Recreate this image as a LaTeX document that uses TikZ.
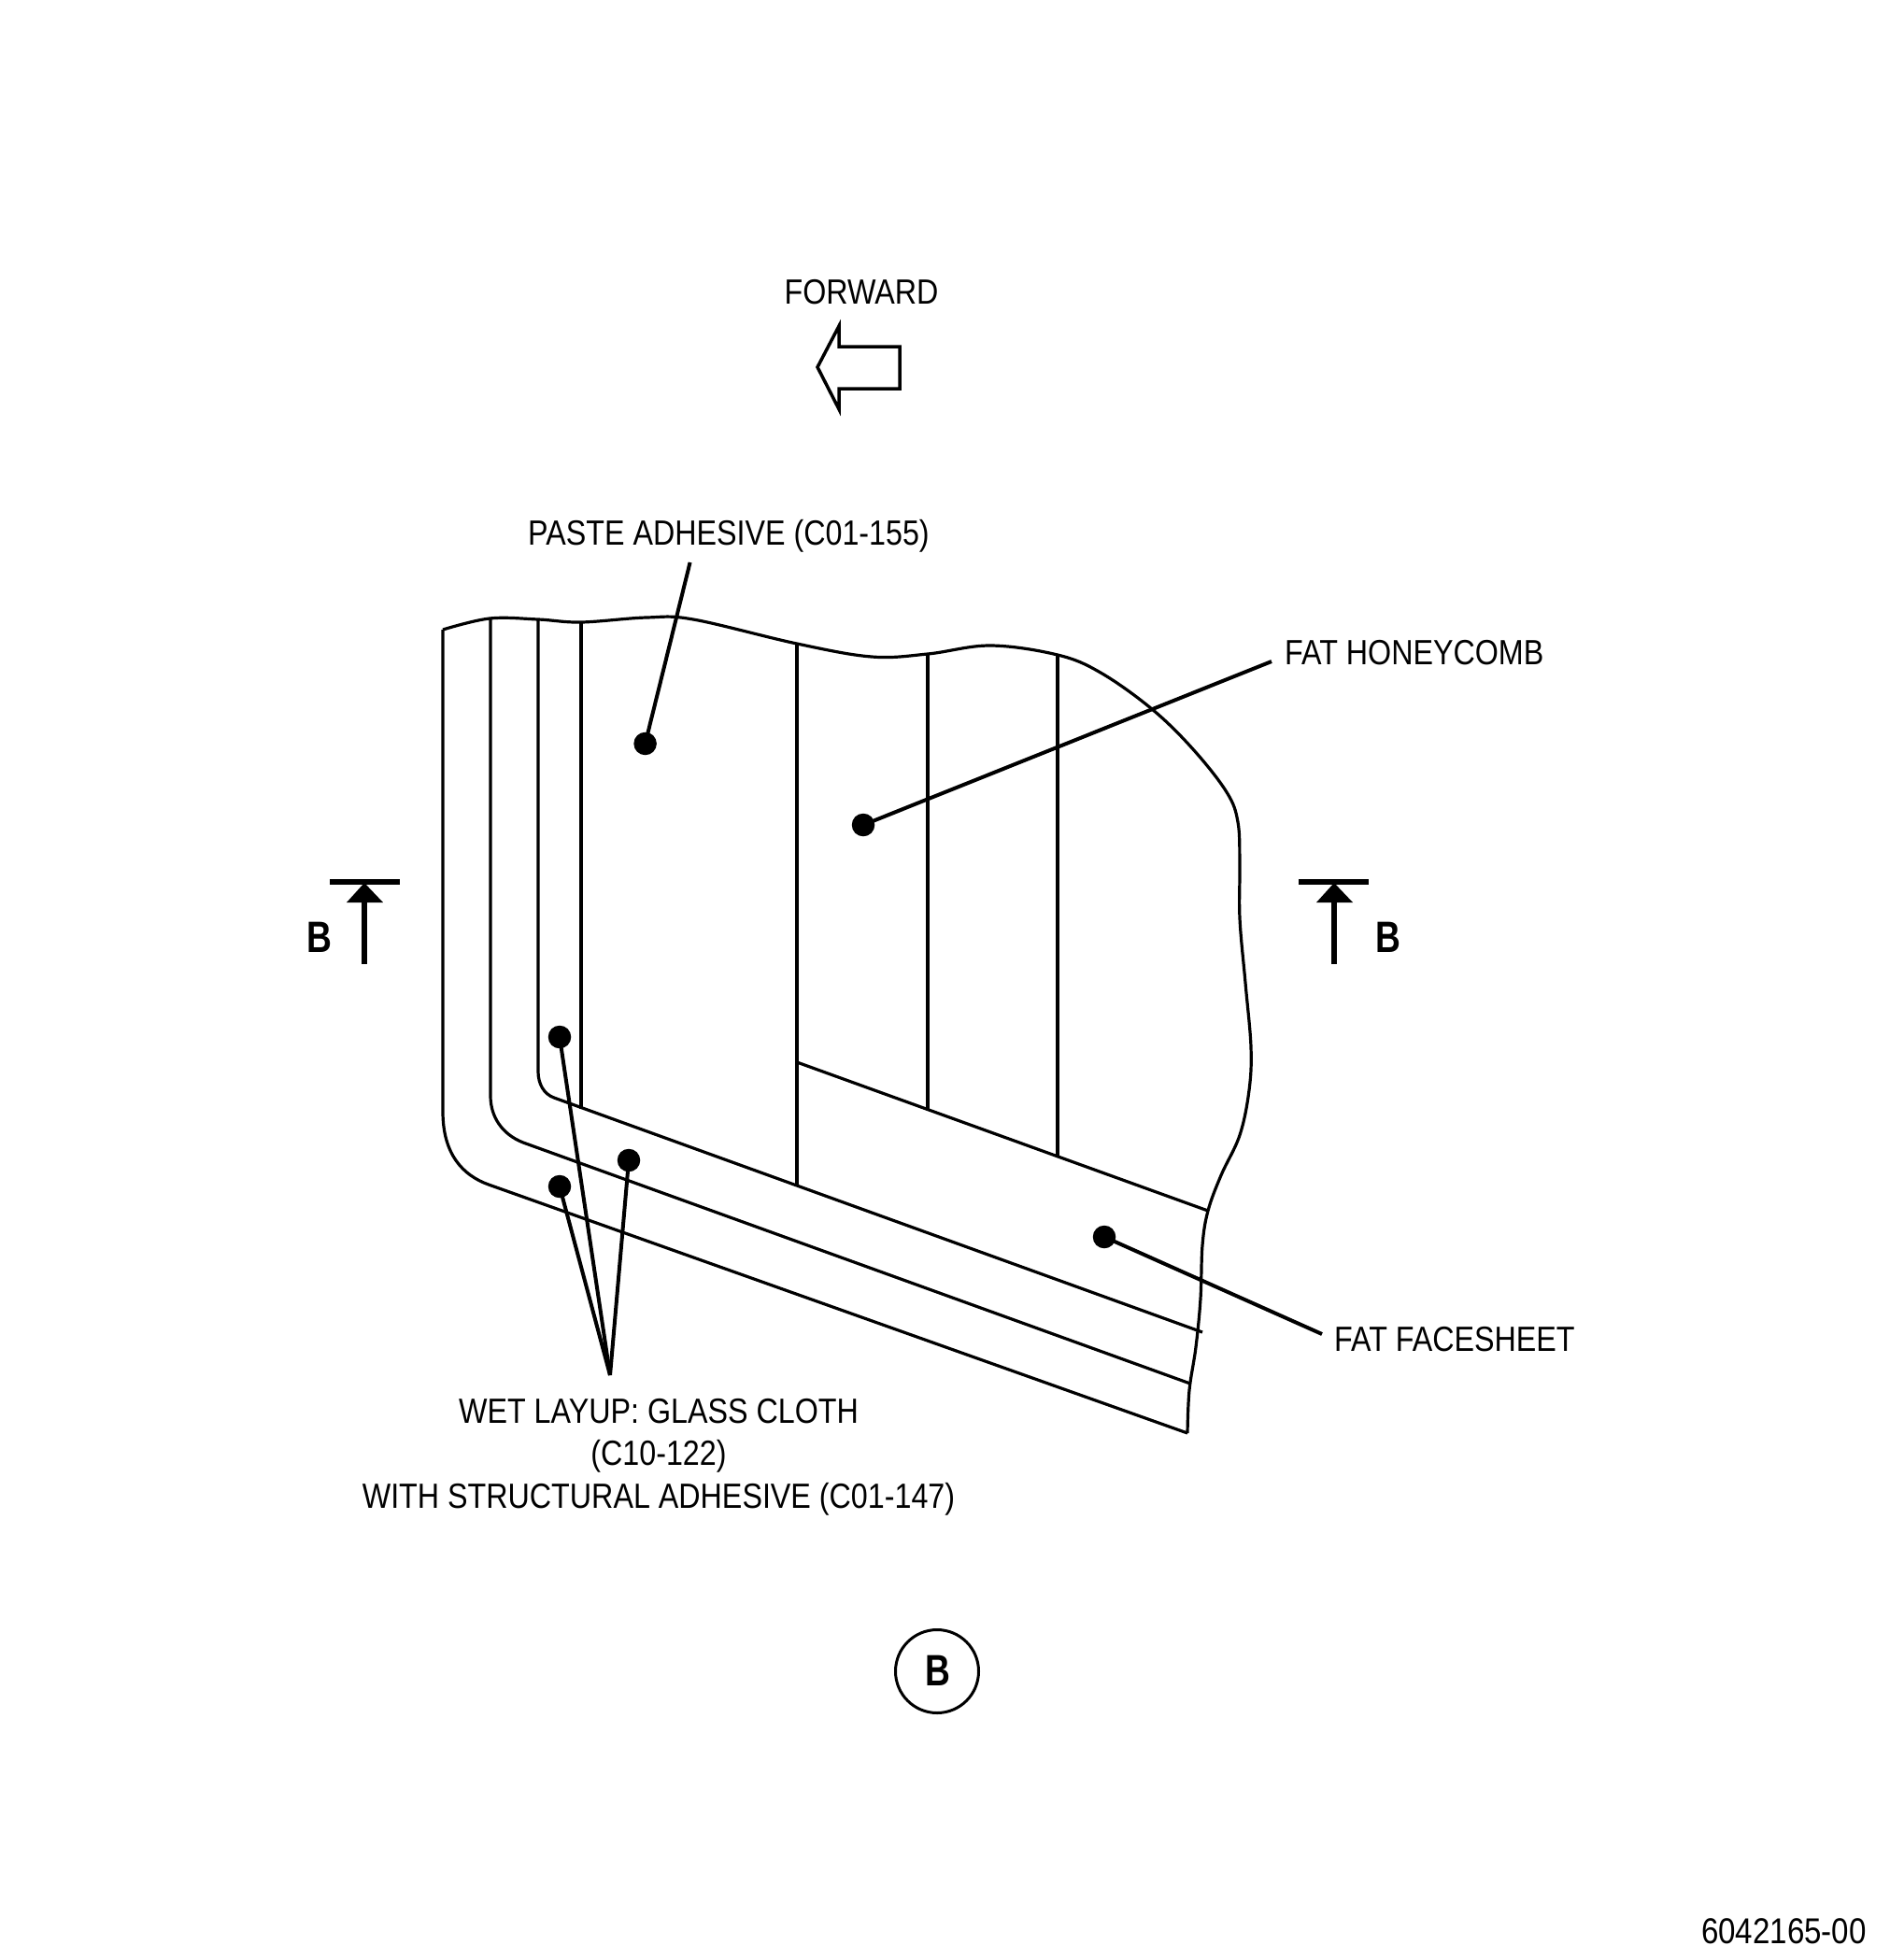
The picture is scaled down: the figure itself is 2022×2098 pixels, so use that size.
\documentclass[tikz,border=0pt]{standalone}
\usepackage{fontspec}
\setmainfont[FakeStretch=0.86]{Liberation Sans}
\begin{document}
\begin{tikzpicture}[x=1pt,y=-1pt,
  part/.style={draw=black,line width=3.2pt,line join=round},
  leader/.style={draw=black,line width=4pt},
  dot/.style={circle,fill=black,inner sep=0pt,minimum size=24.5pt},
  lab/.style={inner sep=0pt,font=\fontsize{37.5}{40}\selectfont},
  sect/.style={inner sep=0pt,xscale=.92,font=\fontsize{47}{49}\selectfont\bfseries}]
\fill[white] (0,0) rectangle (2022,2098);
\useasboundingbox (0,0) rectangle (2022,2098);
% break lines
\draw[part] plot[smooth,tension=.6] coordinates {(474,674) (524,662) (576,663) (622,666) (692,661) (742,663) (853,689) (933,703) (993,700) (1060,691) (1132,701) (1178,720) (1233,759) (1277,802) (1313,848) (1325,880) (1327,925) (1327,983) (1333,1052) (1339,1121) (1337,1167) (1327,1215) (1307,1258) (1293,1296) (1287,1333) (1285,1390) (1280,1442) (1273,1488) (1271,1534)};
% layers
\draw[part] (474,674) -- (474,1190) .. controls (474,1235) and (495,1258) .. (523,1268) -- (1271,1534);
\draw[part] (525,662) -- (525,1173) .. controls (525,1195) and (537,1214) .. (560,1223) -- (1274,1481);
\draw[part] (576,663) -- (576,1147) .. controls (576,1160) and (582,1171) .. (593,1175) -- (1287,1426);
\draw[part] (622,666) -- (622,1187);
\draw[part] (853,689) -- (853,1270);
\draw[part] (853,1137) -- (1293,1296);
\draw[part] (993,700) -- (993,1187);
\draw[part] (1132,701) -- (1132,1238);
% forward arrow
\draw[black,line width=3.5pt,miter limit=10] (875,393) -- (898,349) -- (898,371) -- (963,371) -- (963,416) -- (898,416) -- (898,438) -- cycle;
\node[lab,anchor=base] (fwd) at (922,325) {FORWARD};
% labels
\node[lab,anchor=base] (paste) at (780,583) {PASTE ADHESIVE (C01-155)};
\node[lab,anchor=base west] (honey) at (1375,711.5) {FAT HONEYCOMB};
\node[lab,anchor=base west] (face) at (1428,1446) {FAT FACESHEET};
\node[lab,anchor=base] (wet1) at (705,1523) {WET LAYUP: GLASS CLOTH};
\node[lab,anchor=base] (wet2) at (705,1568.5) {(C10-122)};
\node[lab,anchor=base] (wet3) at (705,1614.5) {WITH STRUCTURAL ADHESIVE (C01-147)};
\node[lab,anchor=base east,font=\fontsize{38.5}{40}\selectfont] (num) at (1998,2080) {6042165-00};
% dots
\node[dot] (dpaste) at (690.6,796) {};
\node[dot] (dhoney) at (924,883) {};
\node[dot] (dface) at (1182,1324) {};
\node[dot] (dw1) at (599,1110) {};
\node[dot] (dw2) at (673,1242) {};
\node[dot] (dw3) at (599,1270) {};
% leader ends
\coordinate (epaste) at (738.6,602);
\coordinate (ehoney) at (1361,708);
\coordinate (eface) at (1415,1428);
\coordinate (ewet) at (653,1472);
\draw[leader] (epaste) -- (dpaste.center);
\draw[leader] (ehoney) -- (dhoney.center);
\draw[leader] (eface) -- (dface.center);
\draw[leader] (ewet) -- (dw1.center);
\draw[leader] (ewet) -- (dw2.center);
\draw[leader] (ewet) -- (dw3.center);
% section marks
\coordinate (bl1) at (353,944); \coordinate (bl2) at (428,944);
\coordinate (sl1) at (390,1032); \coordinate (sl2) at (390,960);
\draw[black,line width=5.5pt] (bl1) -- (bl2);
\draw[black,line width=5.5pt] (sl1) -- (sl2);
\fill[black] (390,945) -- (410,966) -- (371,966) -- cycle;
\node[sect] (bleft) at (342,1003) {B};
\coordinate (br1) at (1390,944); \coordinate (br2) at (1465,944);
\coordinate (sr1) at (1428,1032); \coordinate (sr2) at (1428,960);
\draw[black,line width=5.5pt] (br1) -- (br2);
\draw[black,line width=5.5pt] (sr1) -- (sr2);
\fill[black] (1428,945) -- (1448,966) -- (1409,966) -- cycle;
\node[sect] (bright) at (1485.5,1003) {B};
% view circle
\node[draw=black,line width=3pt,circle,minimum size=89pt,inner sep=0pt] (view) at (1003,1789) {};
\node[sect] (viewb) at (1004,1788) {B};
\end{tikzpicture}
\end{document}
